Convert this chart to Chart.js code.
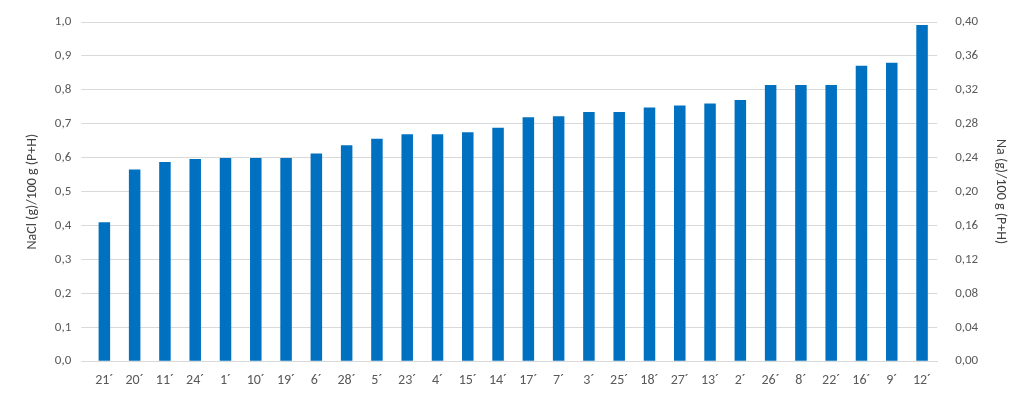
<!DOCTYPE html>
<html><head><meta charset="utf-8">
<script src="https://cdn.jsdelivr.net/npm/chart.js@4"></script>
<style>html,body{margin:0;background:#fff}#wrap{width:1023px;height:402px}</style>
</head><body><div id="wrap"><canvas id="c"></canvas></div>
<script>
const categories = ['21´','20´','11´','24´','1´','10´','19´','6´','28´','5´','23´','4´','15´','14´','17´','7´','3´','25´','18´','27´','13´','2´','26´','8´','22´','16´','9´','12´'];
const naclValues = [0.41,0.565,0.587,0.596,0.599,0.599,0.599,0.612,0.637,0.656,0.669,0.669,0.675,0.688,0.719,0.722,0.735,0.735,0.748,0.754,0.760,0.770,0.814,0.814,0.814,0.871,0.880,0.991];
const leftTitle = 'NaCl (g)/100 g (P+H)';
const rightTitle = 'Na (g)/100 g (P+H)';

const fmt = d => v => v.toFixed(d).replace('.', ',');
const tickFont = {family: 'Calibri, Carlito, "Liberation Sans", sans-serif', size: 13};
new Chart(document.getElementById('c'), {
    type: 'bar',
    data: {
        labels: categories,
        datasets: [{data: naclValues, backgroundColor: '#0070C0', barPercentage: 0.38, categoryPercentage: 1, yAxisID: 'y'}]
    },
    options: {
        responsive: true,
        maintainAspectRatio: false,
        animation: false,
        layout: {padding: {top: 22, bottom: 10, left: 20, right: 10}},
        plugins: {legend: {display: false}, tooltip: {enabled: false}},
        scales: {
            x: {grid: {display: false}, border: {color: '#d9d9d9'},
                ticks: {color: '#595959', font: {...tickFont, size: 14}, maxRotation: 0, autoSkip: false}},
            y: {min: 0, max: 1, grid: {color: '#d9d9d9'}, border: {display: false},
                ticks: {stepSize: 0.1, color: '#595959', font: tickFont, padding: 10, callback: fmt(1)},
                title: {display: true, text: leftTitle, color: '#404040', font: {...tickFont, size: 14}}},
            y1: {position: 'right', min: 0, max: 0.4, grid: {display: false}, border: {display: false},
                ticks: {stepSize: 0.04, color: '#595959', font: tickFont, padding: 10, callback: fmt(2)},
                title: {display: true, text: rightTitle, color: '#404040', font: {...tickFont, size: 14}}}
        }
    }
});
</script></body></html>
